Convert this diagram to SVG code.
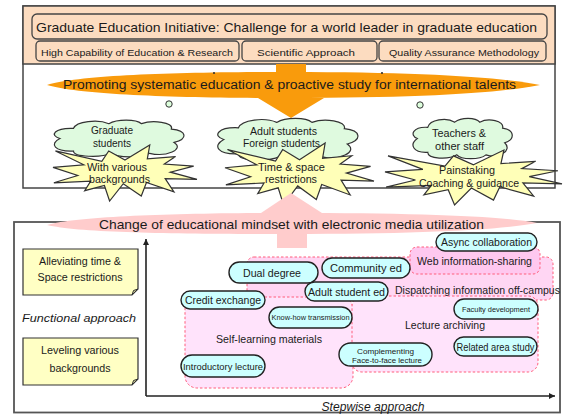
<svg xmlns="http://www.w3.org/2000/svg" width="564" height="414" viewBox="0 0 564 414">
<defs>
<style>
text{font-family:"Liberation Sans",Arial,sans-serif;fill:#1a1a1a}
.hdr{fill:#FCDCC0;stroke:#444;stroke-width:1.3}
.cloud{fill:#DFFADF;stroke:#333;stroke-width:1.2}
.star{fill:#FFFFB8;stroke:#333;stroke-width:1.2}
.note{fill:#FFFFC4;stroke:#333;stroke-width:1.2}
.reg{stroke:#FF5C7A;stroke-width:1;stroke-dasharray:2.5 2}
.node{fill:#CCFFFF;stroke:#222;stroke-width:1.4}
.ax{stroke:#222;stroke-width:1.6;fill:none}
.dot{fill:#DDFFDD;stroke:#333;stroke-width:1}
</style>
<path id="cloudP" vector-effect="non-scaling-stroke" d="M8,50 C0,42 4,22 18,24 C20,6 36,0 44,12 C50,0 64,0 68,12 C76,2 92,8 90,26 C102,30 102,52 92,60 C100,78 86,98 74,88 C68,100 50,100 46,88 C38,100 18,98 18,82 C4,84 0,64 8,50 Z"/>
<polygon id="starP" vector-effect="non-scaling-stroke" points="50,26.9 67.2,0 65.5,24.7 85.1,20.6 77.3,33.9 97.7,37.7 81.5,48.5 100,61.5 77.9,59.9 84,83.8 64.9,66.9 61.3,91.1 48.8,69.2 39.3,100 35.7,72.3 22,81.6 26.2,64.5 0.6,67.5 17.2,54.5 0,39.9 21.4,35.3 1.7,10.6 33.9,29.3 38.7,10.6"/>
<marker id="ah" viewBox="0 0 6 6" refX="6" refY="3" markerWidth="6" markerHeight="6" markerUnits="userSpaceOnUse" orient="auto">
<path d="M0,0 L6,3 L0,6 Z" fill="#222"/>
</marker>
</defs>

<!-- Top frame -->
<g id="topFrame">
<rect x="23" y="6" width="532" height="182" fill="#fff" stroke="#444" stroke-width="1.5"/>
<rect x="23" y="6" width="532" height="58" fill="#FCDCC0" stroke="#444" stroke-width="1.5"/>
</g>
<g id="title">
<rect class="hdr" x="32" y="14" width="515" height="25" rx="5"/>
<text x="286.5" y="32" font-size="13.5" text-anchor="middle" textLength="501" lengthAdjust="spacingAndGlyphs">Graduate Education Initiative: Challenge for a world leader in graduate education</text>
</g>
<g id="sub1">
<rect class="hdr" x="36" y="41" width="203" height="20" rx="4"/>
<text x="137" y="55.5" font-size="9.5" text-anchor="middle" textLength="192" lengthAdjust="spacingAndGlyphs">High Capability of Education &amp; Research</text>
</g>
<g id="sub2">
<rect class="hdr" x="242" y="41" width="135" height="20" rx="4"/>
<text x="306" y="55.5" font-size="9.5" text-anchor="middle" textLength="98" lengthAdjust="spacingAndGlyphs">Scientific Approach</text>
</g>
<g id="sub3">
<rect class="hdr" x="379" y="41" width="167" height="20" rx="4"/>
<text x="464" y="55.5" font-size="9.5" text-anchor="middle" textLength="150" lengthAdjust="spacingAndGlyphs">Quality Assurance Methodology</text>
</g>

<!-- Orange arrow -->
<g id="orangeArrow">
<path d="M47,85 C80,75 180,72 290,72 C420,72 500,77 540,85 C500,93 420,98 290,98 C180,98 80,95 47,85 Z" fill="#F99B0C"/>
<polygon points="276,64 306,64 306,98 324,98 291,118 258,98 276,98" fill="#F99B0C"/>
<text x="289.5" y="89" font-size="12.5" text-anchor="middle" textLength="453" lengthAdjust="spacingAndGlyphs">Promoting systematic education &amp; proactive study for international talents</text>
</g>
<g id="dots">
<circle cx="214" cy="73" r="1.1" fill="#333"/>
<circle cx="382" cy="73" r="1.1" fill="#333"/>
<circle class="dot" cx="169" cy="104" r="3.2"/>
<circle class="dot" cx="420" cy="105" r="3.2"/>
</g>

<!-- Clouds -->
<g id="cloud1">
<use href="#cloudP" class="cloud" transform="translate(49,119) scale(1.36,0.39)"/>
<text x="112" y="134" font-size="10" text-anchor="middle" textLength="42" lengthAdjust="spacingAndGlyphs">Graduate</text>
<text x="112" y="147" font-size="10" text-anchor="middle" textLength="38" lengthAdjust="spacingAndGlyphs">students</text>
</g>
<g id="cloud2">
<use href="#cloudP" class="cloud" transform="translate(212,117) scale(1.47,0.45)"/>
<text x="283.5" y="135" font-size="10" text-anchor="middle" textLength="67" lengthAdjust="spacingAndGlyphs">Adult students</text>
<text x="281.5" y="147" font-size="10" text-anchor="middle" textLength="77" lengthAdjust="spacingAndGlyphs">Foreign students</text>
</g>
<g id="cloud3">
<use href="#cloudP" class="cloud" transform="translate(409,117) scale(1.04,0.43)"/>
<text x="459" y="137" font-size="10" text-anchor="middle" textLength="54" lengthAdjust="spacingAndGlyphs">Teachers &amp;</text>
<text x="459.5" y="150" font-size="10" text-anchor="middle" textLength="49" lengthAdjust="spacingAndGlyphs">other staff</text>
</g>

<!-- Stars -->
<g id="star1">
<use href="#starP" class="star" transform="translate(53,145) scale(1.44,0.56)"/>
<text x="117" y="171" font-size="10" text-anchor="middle" textLength="60" lengthAdjust="spacingAndGlyphs">With various</text>
<text x="119.5" y="183" font-size="10" text-anchor="middle" textLength="61" lengthAdjust="spacingAndGlyphs">backgrounds</text>
</g>
<g id="star2">
<use href="#starP" class="star" transform="translate(225,143) scale(1.49,0.62)"/>
<text x="291.5" y="171" font-size="10" text-anchor="middle" textLength="67" lengthAdjust="spacingAndGlyphs">Time  &amp; space</text>
<text x="291" y="183" font-size="10" text-anchor="middle" textLength="52" lengthAdjust="spacingAndGlyphs">restrictions</text>
</g>
<g id="star3">
<use href="#starP" class="star" transform="translate(385,150) scale(1.77,0.55)"/>
<text x="467" y="174" font-size="10" text-anchor="middle" textLength="56" lengthAdjust="spacingAndGlyphs">Painstaking</text>
<text x="469" y="187" font-size="10" text-anchor="middle" textLength="100" lengthAdjust="spacingAndGlyphs">Coaching &amp; guidance</text>
</g>

<!-- Bottom frame -->
<g id="bottomFrame">
<rect x="14" y="222" width="546" height="190.5" fill="#fff" stroke="#555" stroke-width="1.8"/>
</g>

<!-- Pink arrow -->
<g id="pinkArrow">
<path d="M47,225 C80,216 180,213 290,213 C420,213 500,216 537,223 C500,230 420,234 290,234 C180,234 80,233 47,225 Z" fill="#FFCCCC"/>
<polygon points="291,193 322,213 307,213 307,248 277,248 277,213 261,213" fill="#FFCCCC"/>
<text x="291.5" y="229" font-size="13" text-anchor="middle" textLength="385" lengthAdjust="spacingAndGlyphs">Change of educational mindset with electronic media utilization</text>
</g>

<!-- Left notes -->
<g id="note1">
<path class="note" d="M23,249 H138 V289 L132,295 H23 Z"/>
<path d="M132,295 L133.5,290.5 L138,289 Z" fill="#C8C890" stroke="#333" stroke-width="1"/>
<text x="80" y="265" font-size="10" text-anchor="middle" textLength="82" lengthAdjust="spacingAndGlyphs">Alleviating time &amp;</text>
<text x="80" y="281" font-size="10" text-anchor="middle" textLength="85" lengthAdjust="spacingAndGlyphs">Space restrictions</text>
</g>
<text x="79" y="322" font-size="11.5" font-style="italic" text-anchor="middle" textLength="114" lengthAdjust="spacingAndGlyphs">Functional  approach</text>
<g id="note2">
<path class="note" d="M23,338 H138 V379 L132,385 H23 Z"/>
<path d="M132,385 L133.5,380.5 L138,379 Z" fill="#C8C890" stroke="#333" stroke-width="1"/>
<text x="80" y="354" font-size="10" text-anchor="middle" textLength="78" lengthAdjust="spacingAndGlyphs">Leveling  various</text>
<text x="80" y="372" font-size="10" text-anchor="middle" textLength="61" lengthAdjust="spacingAndGlyphs">backgrounds</text>
</g>

<!-- Regions -->
<g id="regions">
<rect class="reg" x="247" y="257" width="306" height="43" rx="7" fill="#FFD6F3"/>
<rect class="reg" x="410" y="247" width="130" height="27" rx="7" fill="#FFC8EF"/>
<rect class="reg" x="185" y="297" width="168" height="91" rx="12" fill="#FFE3FB"/>
<rect class="reg" x="352" y="296" width="186" height="76" rx="10" fill="#FFE3FB"/>
<text x="474.5" y="265" font-size="10" text-anchor="middle" textLength="115" lengthAdjust="spacingAndGlyphs">Web information-sharing</text>
<text x="477.5" y="294" font-size="10" text-anchor="middle" textLength="165" lengthAdjust="spacingAndGlyphs">Dispatching information off-campus</text>
<text x="445" y="329" font-size="11" text-anchor="middle" textLength="80" lengthAdjust="spacingAndGlyphs">Lecture archiving</text>
<text x="269" y="343" font-size="10.5" text-anchor="middle" textLength="106" lengthAdjust="spacingAndGlyphs">Self-learning materials</text>
</g>

<!-- Axes -->
<g id="axes">
<path class="ax" d="M146,396 V239" marker-end="url(#ah)"/>
<path class="ax" d="M146,396 H555" marker-end="url(#ah)"/>
</g>
<text x="373" y="411" font-size="12" font-style="italic" text-anchor="middle" textLength="103" lengthAdjust="spacingAndGlyphs">Stepwise approach</text>

<!-- Nodes -->
<g id="n-async"><rect class="node" x="436" y="233" width="101" height="18" rx="9"/>
<text x="486.5" y="246" font-size="10" text-anchor="middle" textLength="91" lengthAdjust="spacingAndGlyphs">Async  collaboration</text></g>
<g id="n-dual"><rect class="node" x="229" y="262" width="89" height="21" rx="10.5"/>
<text x="272" y="276.5" font-size="10.5" text-anchor="middle" textLength="58" lengthAdjust="spacingAndGlyphs">Dual degree</text></g>
<g id="n-community"><rect class="node" x="322" y="258" width="88" height="20" rx="10"/>
<text x="366" y="272" font-size="10" text-anchor="middle" textLength="72" lengthAdjust="spacingAndGlyphs">Community  ed</text></g>
<g id="n-adult"><rect class="node" x="305" y="282" width="83" height="19" rx="9.5"/>
<text x="346.5" y="295.5" font-size="10" text-anchor="middle" textLength="77" lengthAdjust="spacingAndGlyphs">Adult student ed</text></g>
<g id="n-credit"><rect class="node" x="181" y="291" width="84" height="18" rx="9"/>
<text x="223" y="304" font-size="10.5" text-anchor="middle" textLength="76" lengthAdjust="spacingAndGlyphs">Credit exchange</text></g>
<g id="n-knowhow"><rect class="node" x="269" y="307" width="83" height="21" rx="10.5"/>
<text x="310.5" y="320" font-size="6.5" text-anchor="middle" textLength="78" lengthAdjust="spacingAndGlyphs">Know-how transmission</text></g>
<g id="n-faculty"><rect class="node" x="454" y="299" width="84" height="20" rx="10"/>
<text x="496" y="312" font-size="7" text-anchor="middle" textLength="68" lengthAdjust="spacingAndGlyphs">Faculty  development</text></g>
<g id="n-related"><rect class="node" x="454" y="337" width="83" height="19" rx="9.5"/>
<text x="495.5" y="350.5" font-size="10" text-anchor="middle" textLength="78" lengthAdjust="spacingAndGlyphs">Related area study</text></g>
<g id="n-complement"><rect class="node" x="339" y="343" width="93" height="23" rx="11.5"/>
<text x="385.5" y="353.5" font-size="7.5" text-anchor="middle" textLength="57" lengthAdjust="spacingAndGlyphs">Complementing</text>
<text x="387" y="363" font-size="7" text-anchor="middle" textLength="70" lengthAdjust="spacingAndGlyphs">Face-to-face lecture</text></g>
<g id="n-intro"><rect class="node" x="181" y="355" width="84" height="22" rx="11"/>
<text x="223" y="369.5" font-size="9" text-anchor="middle" textLength="80" lengthAdjust="spacingAndGlyphs">Introductory lecture</text></g>
</svg>
